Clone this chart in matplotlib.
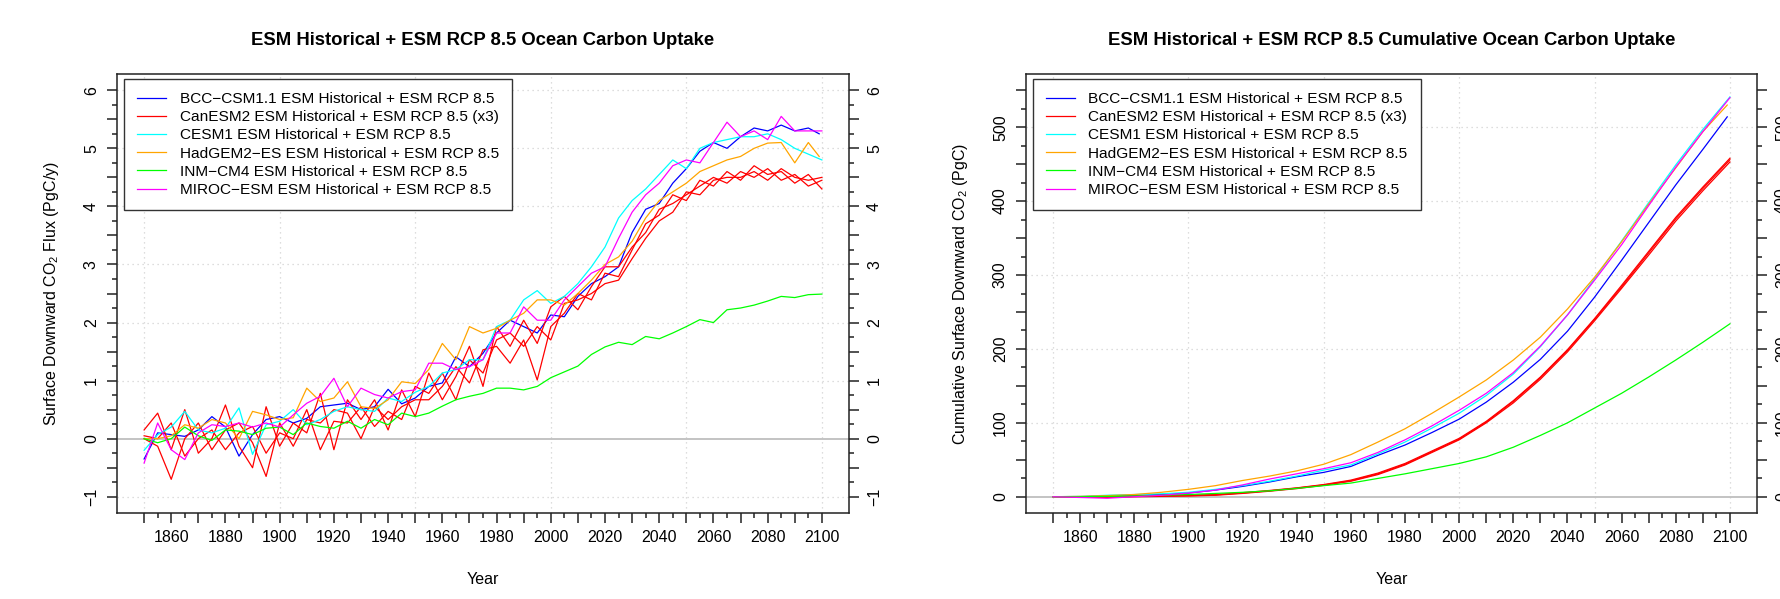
import numpy as np
import matplotlib
matplotlib.use('Agg')
import matplotlib.pyplot as plt
from matplotlib.ticker import FixedLocator, FuncFormatter

plt.rcParams['font.family'] = ['Liberation Sans', 'DejaVu Sans']
plt.rcParams['mathtext.fontset'] = 'custom'
plt.rcParams['mathtext.rm'] = 'Liberation Sans'
plt.rcParams['mathtext.it'] = 'Liberation Sans:italic'

# ---- data ----
years = list(range(1850, 2101, 5))
cum_years = list(range(1850, 2101, 10))

flux_bcc = [-0.35, 0.10, 0.07, 0.04, 0.15, 0.38, 0.20, -0.30, 0.07, 0.33,
            0.38, 0.27, 0.35, 0.55, 0.58, 0.61, 0.50, 0.55, 0.85, 0.60,
            0.70, 0.90, 0.96, 1.41, 1.24, 1.47, 1.82, 2.04, 1.93, 1.82,
            2.13, 2.10, 2.45, 2.67, 2.79, 2.96, 3.55, 3.95, 4.05, 4.40,
            4.65, 4.95, 5.10, 5.00, 5.20, 5.35, 5.30, 5.40, 5.30, 5.35,
            5.25]
flux_can1 = [0.15, 0.44, -0.19, 0.50, -0.25, 0.00, 0.58, -0.13, -0.50, 0.55,
             -0.13, 0.27, 0.10, 0.78, -0.19, 0.67, 0.33, 0.67, 0.15, 0.84,
             0.38, 1.13, 0.67, 1.07, 1.59, 0.90, 1.93, 1.59, 2.04, 1.64,
             2.27, 2.45, 2.22, 2.62, 2.96, 2.96, 3.30, 3.55, 3.95, 4.05,
             4.20, 4.35, 4.50, 4.40, 4.60, 4.50, 4.65, 4.45, 4.55, 4.35,
             4.45]
flux_can2 = [0.00, -0.13, -0.70, 0.00, 0.27, -0.19, 0.15, 0.27, -0.07, -0.65,
             0.27, -0.13, 0.33, 0.27, 0.50, 0.44, 0.00, 0.55, 0.33, 0.55,
             0.67, 0.67, 0.90, 1.24, 0.96, 1.53, 1.59, 1.30, 1.70, 1.01,
             1.93, 2.16, 2.50, 2.39, 2.85, 2.79, 3.25, 3.70, 3.85, 4.20,
             4.10, 4.45, 4.35, 4.60, 4.45, 4.70, 4.55, 4.60, 4.40, 4.55,
             4.30]
flux_can3 = [0.05, 0.00, 0.27, -0.30, 0.00, 0.15, -0.19, 0.10, 0.21, -0.25,
             0.10, 0.00, 0.50, -0.19, 0.30, 0.27, 0.55, 0.21, 0.47, 0.33,
             0.90, 0.78, 1.13, 0.67, 1.36, 1.13, 1.70, 1.82, 1.59, 1.93,
             1.70, 2.33, 2.39, 2.50, 2.67, 2.73, 3.10, 3.45, 3.75, 3.90,
             4.25, 4.20, 4.45, 4.50, 4.50, 4.60, 4.45, 4.65, 4.50, 4.45,
             4.50]
flux_cesm = [-0.20, 0.07, 0.20, 0.47, 0.15, 0.10, 0.18, 0.53, -0.27, 0.24,
             0.30, 0.50, 0.24, 0.33, 0.47, 0.55, 0.50, 0.47, 0.70, 0.64,
             0.80, 0.90, 1.13, 1.19, 1.36, 1.36, 1.93, 2.04, 2.39, 2.55,
             2.33, 2.45, 2.67, 2.96, 3.30, 3.80, 4.10, 4.30, 4.55, 4.80,
             4.65, 5.00, 5.10, 5.15, 5.20, 5.20, 5.25, 5.15, 5.00, 4.90,
             4.80]
flux_hadgem = [0.00, 0.00, 0.05, 0.24, 0.18, 0.33, 0.27, 0.00, 0.47, 0.41,
               0.33, 0.36, 0.87, 0.64, 0.70, 0.98, 0.55, 0.52, 0.67, 0.98,
               0.95, 1.19, 1.64, 1.36, 1.93, 1.82, 1.90, 2.04, 2.16, 2.39,
               2.39, 2.30, 2.50, 2.73, 3.00, 3.13, 3.40, 3.80, 4.10, 4.25,
               4.40, 4.60, 4.70, 4.80, 4.86, 5.00, 5.09, 5.10, 4.75, 5.10,
               4.86]
flux_inm = [0.00, -0.07, 0.00, 0.20, 0.05, -0.03, 0.15, 0.13, 0.07, 0.18,
            0.20, 0.07, 0.27, 0.21, 0.18, 0.30, 0.18, 0.33, 0.24, 0.44,
            0.38, 0.44, 0.56, 0.67, 0.73, 0.78, 0.87, 0.87, 0.84, 0.90,
            1.05, 1.15, 1.25, 1.45, 1.58, 1.66, 1.62, 1.76, 1.72, 1.82,
            1.93, 2.05, 2.00, 2.22, 2.25, 2.30, 2.37, 2.45, 2.43, 2.48,
            2.49]
flux_miroc = [-0.42, 0.27, -0.19, -0.36, 0.10, 0.24, 0.21, 0.27, 0.20, 0.27,
              0.20, 0.41, 0.61, 0.73, 1.04, 0.55, 0.87, 0.76, 0.70, 0.81,
              0.84, 1.30, 1.30, 1.19, 1.24, 1.36, 1.82, 1.82, 2.27, 2.04,
              2.04, 2.39, 2.62, 2.85, 2.96, 3.45, 3.90, 4.20, 4.40, 4.70,
              4.80, 4.75, 5.10, 5.45, 5.20, 5.30, 5.15, 5.55, 5.30, 5.30,
              5.30]

cum_bcc = [0, 0, 1, 2, 3, 5, 9, 14, 20, 27, 33, 41, 56, 70, 87, 105,
           128, 155, 186, 224, 270, 320, 371, 422, 470, 514]
cum_can1 = [0, 0, 0, 0.5, 1, 1.5, 2.5, 5, 8, 11.7, 16, 21.6, 31, 44, 61, 78,
            101, 129, 161, 198, 240, 284, 330, 376, 417, 456]
cum_can2 = [0, -0.5, -1, 0, 0.5, 1, 2, 4.5, 7.5, 11, 15.5, 21, 30, 43, 60, 77,
            100, 127, 159, 196, 238, 282, 327, 373, 414, 453]
cum_can3 = [0, 0, 0.5, 1, 1.5, 2, 3, 5.5, 8.5, 12, 16.5, 22.5, 32, 45, 62, 79,
            102, 130, 162, 199, 241, 286, 332, 378, 419, 458]
cum_cesm = [0, 0.5, 2, 3, 4, 6, 10, 15, 21, 28, 36, 43, 58, 74, 93, 113,
            137, 166, 203, 246, 295, 346, 398, 449, 497, 541]
cum_hadgem = [0, 0.5, 1.5, 3, 6, 10, 15, 22, 28, 35, 44, 57, 74, 92, 113, 135,
              158, 185, 216, 254, 297, 345, 396, 445, 494, 530]
cum_inm = [0, 0, 0.5, 1, 2, 3, 4.5, 6, 8, 11.3, 15, 18.5, 24.8, 31, 38, 45,
           54, 67, 83, 100, 120, 140, 162, 185, 209, 234]
cum_miroc = [0, -1, -2, 0, 2, 5, 9, 16, 24, 31, 38, 46, 60, 77, 96, 117,
             140, 168, 204, 246, 293, 341, 394, 446, 494, 540]

labels = ['BCC\u2212CSM1.1 ESM Historical + ESM RCP 8.5',
          'CanESM2 ESM Historical + ESM RCP 8.5 (x3)',
          'CESM1 ESM Historical + ESM RCP 8.5',
          'HadGEM2\u2212ES ESM Historical + ESM RCP 8.5',
          'INM\u2212CM4 ESM Historical + ESM RCP 8.5',
          'MIROC\u2212ESM ESM Historical + ESM RCP 8.5']
colors = ['#0000ff', '#ff0000', '#00ffff', '#ffa500', '#00ff00', '#ff00ff']

# (label index, flux, cumulative, last year)
runs = [(0, flux_bcc, cum_bcc, 2099),
        (1, flux_can1, cum_can1, 2100),
        (1, flux_can2, cum_can2, 2100),
        (1, flux_can3, cum_can3, 2100),
        (2, flux_cesm, cum_cesm, 2100),
        (3, flux_hadgem, cum_hadgem, 2099),
        (4, flux_inm, cum_inm, 2100),
        (5, flux_miroc, cum_miroc, 2100)]

W, H = 1781, 599
fig = plt.figure(figsize=(W / 100, H / 100), dpi=100)
ax1 = fig.add_axes([117 / W, (H - 513) / H, 732 / W, 439 / H])
ax2 = fig.add_axes([1026 / W, (H - 513) / H, 731 / W, 439 / H])

grid_kw = dict(color='#d3d3d3', linestyle=(0, (1, 3)), linewidth=0.9, zorder=0)


def ylab_fmt(step):
    def f(v, p):
        if abs(v / step - round(v / step)) > 1e-6:
            return ''
        return ('%d' % round(v)).replace('-', '\u2212')
    return FuncFormatter(f)


def style(ax, ylim, ymaj, ymin, label_step, title, ylabel):
    ax.set_xlim(1840, 2110)
    ax.set_ylim(*ylim)
    ax.xaxis.set_major_locator(FixedLocator(np.arange(1850, 2101, 10)))
    ax.xaxis.set_minor_locator(FixedLocator(np.arange(1855, 2100, 10)))
    ax.xaxis.set_major_formatter(FuncFormatter(
        lambda v, p: '%d' % round(v) if round(v) % 20 == 0 else ''))
    ax.yaxis.set_major_locator(FixedLocator(ymaj))
    ax.yaxis.set_minor_locator(FixedLocator(ymin))
    ax.yaxis.set_major_formatter(ylab_fmt(label_step))
    ax.tick_params(which='both', direction='out', width=1.1, colors='#222222',
                   labelcolor='black', labelsize=11.5)
    ax.tick_params(which='major', length=7)
    ax.tick_params(which='minor', length=3.6)
    ax.tick_params(axis='x', pad=5)
    ax.tick_params(axis='y', which='both', left=True, right=True,
                   labelleft=True, labelright=True, labelrotation=90, pad=6)
    for lab in ax.get_yticklabels():
        lab.set_verticalalignment('center')
    for s in ax.spines.values():
        s.set_linewidth(1.1)
        s.set_color('#222222')
    ax.set_title(title, fontsize=13.3, fontweight='bold', pad=21)
    ax.set_xlabel('Year', fontsize=11.5)
    ax.xaxis.set_label_coords(0.5, -(579 - 513) / 439)
    ax.xaxis.label.set_verticalalignment('center')
    ax.set_ylabel(ylabel, fontsize=11.5)
    ax.yaxis.set_label_coords(-0.089, 0.5)
    ax.yaxis.label.set_verticalalignment('center')
    for x in range(1850, 2101, 50):
        ax.axvline(x, **grid_kw)


style(ax1, (-1.28, 6.28), np.arange(-1, 6.01, 0.5), np.arange(-0.75, 6, 0.5), 1,
      'ESM Historical + ESM RCP 8.5 Ocean Carbon Uptake',
      'Surface Downward CO$_2$ Flux (PgC/y)')
style(ax2, (-22, 572), np.arange(0, 551, 50), np.arange(25, 550, 50), 100,
      'ESM Historical + ESM RCP 8.5 Cumulative Ocean Carbon Uptake',
      'Cumulative Surface Downward CO$_2$ (PgC)')

for y in [-1, 1, 2, 3, 4, 5, 6]:
    ax1.axhline(y, **grid_kw)
for y in [100, 200, 300, 400, 500]:
    ax2.axhline(y, **grid_kw)
ax1.axhline(0, color='#bebebe', linewidth=1.3, zorder=1)
ax2.axhline(0, color='#bebebe', linewidth=1.3, zorder=1)

seen = set()
for idx, flux, cum, last in runs:
    fx = years[:-1] + [last]
    cx = cum_years[:-1] + [last]
    lab = labels[idx] if idx not in seen else None
    seen.add(idx)
    ax1.plot(fx, flux, color=colors[idx], linewidth=0.9, label=lab, zorder=3)
    ax2.plot(cx, cum, color=colors[idx], linewidth=0.9, label=lab, zorder=3)

for ax in (ax1, ax2):
    leg = ax.legend(loc='upper left', bbox_to_anchor=(7 / 732, 1 - 5 / 439),
                    borderaxespad=0, frameon=True, fancybox=False,
                    edgecolor='#333333', framealpha=1, fontsize=11.1,
                    handlelength=1.85, handletextpad=0.9, borderpad=0.85,
                    labelspacing=0.27)
    leg.get_frame().set_linewidth(1.0)
    leg.set_zorder(5)

fig.savefig('out.png', dpi=100)
